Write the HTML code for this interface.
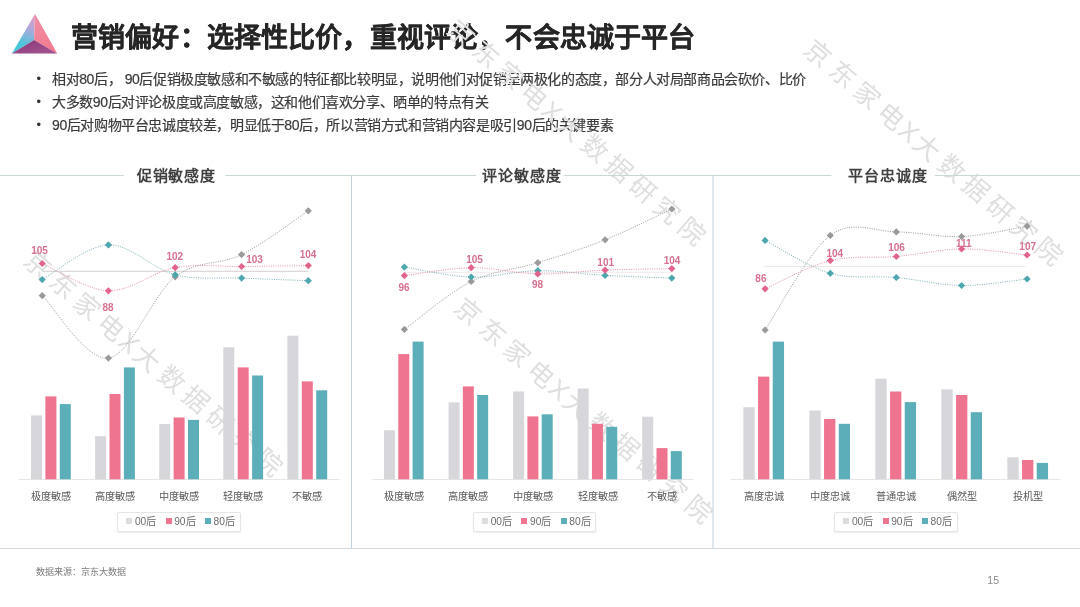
<!DOCTYPE html>
<html lang="zh-CN"><head><meta charset="utf-8">
<style>
*{margin:0;padding:0;box-sizing:border-box}
html,body{width:1080px;height:607px;overflow:hidden;background:#fff}
body{filter:blur(0.3px)}
body{position:relative;font-family:"Liberation Sans", sans-serif;color:#333}
.title{position:absolute;left:71px;top:19.5px;font-size:27px;font-weight:bold;color:#262626;-webkit-text-stroke:0.3px #262626;white-space:nowrap;line-height:36px;letter-spacing:0.15px}
.bul{position:absolute;left:52px;font-size:14px;letter-spacing:-0.4px;color:#3a3a3a;-webkit-text-stroke:0.2px #3a3a3a;white-space:nowrap;line-height:18px}
.dot{position:absolute;left:36.6px;font-size:13px;color:#333;line-height:18px}
.ctitle{position:absolute;width:120px;text-align:center;font-size:15px;letter-spacing:0.85px;text-indent:0.85px;font-weight:bold;color:#404040;line-height:22px;white-space:nowrap}
.cat{position:absolute;width:80px;text-align:center;font-size:10.2px;color:#595959;line-height:14px;white-space:nowrap}
.legend{position:absolute;width:123.5px;height:20px;border:1px solid #e6e6e6;border-radius:2px;box-shadow:0 1px 1.5px rgba(0,0,0,0.08);background:#fff}
.lsq{position:absolute;width:6px;height:6px}
.ltx{position:absolute;font-size:10.2px;color:#6b6b6b;line-height:13px;white-space:nowrap}
.lbl{font-family:"Liberation Sans", sans-serif;font-size:10px;font-weight:bold;fill:#d6708e;text-anchor:middle}
.src{position:absolute;left:36px;top:565.6px;font-size:9px;color:#7a7a7a;line-height:12px;white-space:nowrap}
.pg{position:absolute;left:987.3px;top:573px;font-size:10.5px;color:#8a8a8a;line-height:14px}
.wm{position:absolute;font-size:26px;color:#dfdfdf;white-space:nowrap;transform-origin:13px 15px;transform:rotate(40.6deg);letter-spacing:6px;line-height:30px}
.wx{margin-left:-4px;letter-spacing:2.2px}
svg.main{position:absolute;left:0;top:0}
</style></head><body>
<svg class="logo" width="70" height="70" viewBox="0 0 70 70" style="position:absolute;left:0;top:0">
<defs>
<linearGradient id="gl" x1="34" y1="16" x2="24" y2="46" gradientUnits="userSpaceOnUse">
<stop offset="0" stop-color="#e69ac2"/><stop offset="0.45" stop-color="#aaaadc"/><stop offset="1" stop-color="#46c6da"/></linearGradient>
<linearGradient id="gr" x1="35" y1="14" x2="50" y2="50" gradientUnits="userSpaceOnUse">
<stop offset="0" stop-color="#f090a6"/><stop offset="1" stop-color="#f27a90"/></linearGradient>
<linearGradient id="gb" x1="30" y1="40" x2="34" y2="54" gradientUnits="userSpaceOnUse">
<stop offset="0" stop-color="#8c3c7c"/><stop offset="1" stop-color="#a0508c"/></linearGradient>
</defs>
<path d="M35,14 L34.1,40.1 L11.9,53.4 Z" fill="url(#gl)"/>
<path d="M35,14 L57.2,53.4 L34.1,40.1 Z" fill="url(#gr)"/>
<path d="M34.1,40.1 L57.2,53.4 L11.9,53.4 Z" fill="url(#gb)"/>
</svg>
<div class="title">营销偏好：选择性比价，重视评论，不会忠诚于平台</div>
<div class="dot" style="top:69.8px">•</div>
<div class="dot" style="top:92.5px">•</div>
<div class="dot" style="top:115.6px">•</div>
<div class="bul" style="top:70px">相对80后， 90后促销极度敏感和不敏感的特征都比较明显，说明他们对促销呈两极化的态度，部分人对局部商品会砍价、比价</div>
<div class="bul" style="top:92.5px">大多数90后对评论极度或高度敏感，这和他们喜欢分享、晒单的特点有关</div>
<div class="bul" style="top:115.5px">90后对购物平台忠诚度较差，明显低于80后，所以营销方式和营销内容是吸引90后的关键要素</div>
<div class="wm" style="left:25.0px;top:249.5px">京东家电<span class="wx">X</span>大数据研究院</div>
<div class="wm" style="left:455.0px;top:296.5px">京东家电<span class="wx">X</span>大数据研究院</div>
<div class="wm" style="left:805.0px;top:38.7px">京东家电<span class="wx">X</span>大数据研究院</div>
<div class="wm" style="left:448.0px;top:19.0px">京东家电<span class="wx">X</span>大数据研究院</div>
<svg class="main" width="1080" height="607" viewBox="0 0 1080 607">
<line x1="0" y1="175.5" x2="123.7" y2="175.5" stroke="#c6d9d8" stroke-width="1"/>
<line x1="225.5" y1="175.5" x2="476.3" y2="175.5" stroke="#c6d9d8" stroke-width="1"/>
<line x1="563.7" y1="175.5" x2="831.4" y2="175.5" stroke="#c6d9d8" stroke-width="1"/>
<line x1="934.8" y1="175.5" x2="1080" y2="175.5" stroke="#c6d9d8" stroke-width="1"/>
<line x1="351.5" y1="175.5" x2="351.5" y2="548.5" stroke="#c0d2e0" stroke-width="1"/>
<line x1="713" y1="175.5" x2="713" y2="548.5" stroke="#c0d2e0" stroke-width="1"/>
<line x1="0" y1="548.5" x2="1080" y2="548.5" stroke="#d3dadc" stroke-width="1"/>
<line x1="18.8" y1="479.5" x2="339.3" y2="479.5" stroke="#e6e6e6" stroke-width="1"/>
<rect x="31.00" y="415.40" width="11.00" height="63.90" fill="#d7d7db"/>
<rect x="45.40" y="396.40" width="11.00" height="82.90" fill="#ee7490"/>
<rect x="59.80" y="404.10" width="11.00" height="75.20" fill="#5cafb9"/>
<rect x="95.10" y="436.20" width="11.00" height="43.10" fill="#d7d7db"/>
<rect x="109.50" y="394.00" width="11.00" height="85.30" fill="#ee7490"/>
<rect x="123.90" y="367.40" width="11.00" height="111.90" fill="#5cafb9"/>
<rect x="159.20" y="424.00" width="11.00" height="55.30" fill="#d7d7db"/>
<rect x="173.60" y="417.50" width="11.00" height="61.80" fill="#ee7490"/>
<rect x="188.00" y="419.90" width="11.00" height="59.40" fill="#5cafb9"/>
<rect x="223.30" y="347.30" width="11.00" height="132.00" fill="#d7d7db"/>
<rect x="237.70" y="367.40" width="11.00" height="111.90" fill="#ee7490"/>
<rect x="252.10" y="375.50" width="11.00" height="103.80" fill="#5cafb9"/>
<rect x="287.40" y="335.70" width="11.00" height="143.60" fill="#d7d7db"/>
<rect x="301.80" y="381.40" width="11.00" height="97.90" fill="#ee7490"/>
<rect x="316.20" y="390.30" width="11.00" height="89.00" fill="#5cafb9"/>
<line x1="42.0" y1="271.3" x2="308.3" y2="271.3" stroke="#c9c2c6" stroke-width="0.8"/>
<path d="M42.20,295.60 C53.23,306.02 86.23,361.23 108.40,358.10 C130.57,354.97 153.00,294.05 175.20,276.80 C197.40,259.55 219.42,265.60 241.60,254.60 C263.78,243.60 297.18,218.10 308.30,210.80" fill="none" stroke="#9c9c9c" stroke-width="1" stroke-dasharray="1 1.3" />
<path d="M42.20,279.60 C53.23,273.82 86.23,245.70 108.40,244.90 C130.57,244.10 153.00,269.27 175.20,274.80 C197.40,280.33 219.42,277.12 241.60,278.10 C263.78,279.08 297.18,280.27 308.30,280.70" fill="none" stroke="#7db4b9" stroke-width="1" stroke-dasharray="1 1.3" />
<path d="M42.20,263.50 C53.23,268.05 86.23,290.12 108.40,290.80 C130.57,291.48 153.00,271.65 175.20,267.60 C197.40,263.55 219.42,266.83 241.60,266.50 C263.78,266.17 297.18,265.75 308.30,265.60" fill="none" stroke="#e592aa" stroke-width="1" stroke-dasharray="1 1.3" />
<path d="M42.20,292.00 L45.80,295.60 L42.20,299.20 L38.60,295.60 Z" fill="#9a9a9a"/>
<path d="M108.40,354.50 L112.00,358.10 L108.40,361.70 L104.80,358.10 Z" fill="#9a9a9a"/>
<path d="M175.20,273.20 L178.80,276.80 L175.20,280.40 L171.60,276.80 Z" fill="#9a9a9a"/>
<path d="M241.60,251.00 L245.20,254.60 L241.60,258.20 L238.00,254.60 Z" fill="#9a9a9a"/>
<path d="M308.30,207.20 L311.90,210.80 L308.30,214.40 L304.70,210.80 Z" fill="#9a9a9a"/>
<path d="M42.20,276.00 L45.80,279.60 L42.20,283.20 L38.60,279.60 Z" fill="#4ea6ae"/>
<path d="M108.40,241.30 L112.00,244.90 L108.40,248.50 L104.80,244.90 Z" fill="#4ea6ae"/>
<path d="M175.20,271.20 L178.80,274.80 L175.20,278.40 L171.60,274.80 Z" fill="#4ea6ae"/>
<path d="M241.60,274.50 L245.20,278.10 L241.60,281.70 L238.00,278.10 Z" fill="#4ea6ae"/>
<path d="M308.30,277.10 L311.90,280.70 L308.30,284.30 L304.70,280.70 Z" fill="#4ea6ae"/>
<path d="M42.20,259.90 L45.80,263.50 L42.20,267.10 L38.60,263.50 Z" fill="#e3648a"/>
<path d="M108.40,287.20 L112.00,290.80 L108.40,294.40 L104.80,290.80 Z" fill="#e3648a"/>
<path d="M175.20,264.00 L178.80,267.60 L175.20,271.20 L171.60,267.60 Z" fill="#e3648a"/>
<path d="M241.60,262.90 L245.20,266.50 L241.60,270.10 L238.00,266.50 Z" fill="#e3648a"/>
<path d="M308.30,262.00 L311.90,265.60 L308.30,269.20 L304.70,265.60 Z" fill="#e3648a"/>
<text x="39.6" y="254.2" class="lbl">105</text>
<text x="108.1" y="310.5" class="lbl">88</text>
<text x="174.8" y="260.4" class="lbl">102</text>
<text x="254.6" y="262.8" class="lbl">103</text>
<text x="308.0" y="258.0" class="lbl">104</text>
<line x1="372.6" y1="479.5" x2="693.4" y2="479.5" stroke="#e6e6e6" stroke-width="1"/>
<rect x="384.00" y="430.30" width="11.00" height="49.00" fill="#d7d7db"/>
<rect x="398.30" y="354.10" width="11.00" height="125.20" fill="#ee7490"/>
<rect x="412.60" y="341.60" width="11.00" height="137.70" fill="#5cafb9"/>
<rect x="448.55" y="402.40" width="11.00" height="76.90" fill="#d7d7db"/>
<rect x="462.85" y="386.40" width="11.00" height="92.90" fill="#ee7490"/>
<rect x="477.15" y="395.00" width="11.00" height="84.30" fill="#5cafb9"/>
<rect x="513.10" y="391.50" width="11.00" height="87.80" fill="#d7d7db"/>
<rect x="527.40" y="416.40" width="11.00" height="62.90" fill="#ee7490"/>
<rect x="541.70" y="414.30" width="11.00" height="65.00" fill="#5cafb9"/>
<rect x="577.65" y="388.50" width="11.00" height="90.80" fill="#d7d7db"/>
<rect x="591.95" y="423.80" width="11.00" height="55.50" fill="#ee7490"/>
<rect x="606.25" y="426.80" width="11.00" height="52.50" fill="#5cafb9"/>
<rect x="642.20" y="416.70" width="11.00" height="62.60" fill="#d7d7db"/>
<rect x="656.50" y="448.10" width="11.00" height="31.20" fill="#ee7490"/>
<rect x="670.80" y="451.10" width="11.00" height="28.20" fill="#5cafb9"/>
<line x1="404.0" y1="272.3" x2="672.0" y2="272.3" stroke="#ebe5e7" stroke-width="0.8"/>
<path d="M404.40,329.40 C415.53,321.42 448.97,292.62 471.20,281.50 C493.43,270.38 515.48,269.65 537.80,262.70 C560.12,255.75 582.77,248.75 605.10,239.80 C627.43,230.85 660.68,214.13 671.80,209.00" fill="none" stroke="#9c9c9c" stroke-width="1" stroke-dasharray="1 1.3" />
<path d="M404.40,267.10 C415.53,268.75 448.97,276.40 471.20,277.00 C493.43,277.60 515.48,270.97 537.80,270.70 C560.12,270.43 582.77,274.17 605.10,275.40 C627.43,276.63 660.68,277.65 671.80,278.10" fill="none" stroke="#7db4b9" stroke-width="1" stroke-dasharray="1 1.3" />
<path d="M404.40,275.60 C415.53,274.28 448.97,267.98 471.20,267.70 C493.43,267.42 515.48,273.50 537.80,273.90 C560.12,274.30 582.77,270.98 605.10,270.10 C627.43,269.22 660.68,268.85 671.80,268.60" fill="none" stroke="#e592aa" stroke-width="1" stroke-dasharray="1 1.3" />
<path d="M404.40,325.80 L408.00,329.40 L404.40,333.00 L400.80,329.40 Z" fill="#9a9a9a"/>
<path d="M471.20,277.90 L474.80,281.50 L471.20,285.10 L467.60,281.50 Z" fill="#9a9a9a"/>
<path d="M537.80,259.10 L541.40,262.70 L537.80,266.30 L534.20,262.70 Z" fill="#9a9a9a"/>
<path d="M605.10,236.20 L608.70,239.80 L605.10,243.40 L601.50,239.80 Z" fill="#9a9a9a"/>
<path d="M671.80,205.40 L675.40,209.00 L671.80,212.60 L668.20,209.00 Z" fill="#9a9a9a"/>
<path d="M404.40,263.50 L408.00,267.10 L404.40,270.70 L400.80,267.10 Z" fill="#4ea6ae"/>
<path d="M471.20,273.40 L474.80,277.00 L471.20,280.60 L467.60,277.00 Z" fill="#4ea6ae"/>
<path d="M537.80,267.10 L541.40,270.70 L537.80,274.30 L534.20,270.70 Z" fill="#4ea6ae"/>
<path d="M605.10,271.80 L608.70,275.40 L605.10,279.00 L601.50,275.40 Z" fill="#4ea6ae"/>
<path d="M671.80,274.50 L675.40,278.10 L671.80,281.70 L668.20,278.10 Z" fill="#4ea6ae"/>
<path d="M404.40,272.00 L408.00,275.60 L404.40,279.20 L400.80,275.60 Z" fill="#e3648a"/>
<path d="M471.20,264.10 L474.80,267.70 L471.20,271.30 L467.60,267.70 Z" fill="#e3648a"/>
<path d="M537.80,270.30 L541.40,273.90 L537.80,277.50 L534.20,273.90 Z" fill="#e3648a"/>
<path d="M605.10,266.50 L608.70,270.10 L605.10,273.70 L601.50,270.10 Z" fill="#e3648a"/>
<path d="M671.80,265.00 L675.40,268.60 L671.80,272.20 L668.20,268.60 Z" fill="#e3648a"/>
<text x="404.1" y="291.4" class="lbl">96</text>
<text x="474.5" y="262.8" class="lbl">105</text>
<text x="537.5" y="288.3" class="lbl">98</text>
<text x="605.7" y="266.4" class="lbl">101</text>
<text x="672.1" y="264.0" class="lbl">104</text>
<line x1="730.7" y1="479.5" x2="1060.7" y2="479.5" stroke="#e6e6e6" stroke-width="1"/>
<rect x="743.35" y="407.20" width="11.30" height="72.10" fill="#d7d7db"/>
<rect x="758.05" y="376.60" width="11.30" height="102.70" fill="#ee7490"/>
<rect x="772.75" y="341.60" width="11.30" height="137.70" fill="#5cafb9"/>
<rect x="809.35" y="410.50" width="11.30" height="68.80" fill="#d7d7db"/>
<rect x="824.05" y="419.00" width="11.30" height="60.30" fill="#ee7490"/>
<rect x="838.75" y="423.80" width="11.30" height="55.50" fill="#5cafb9"/>
<rect x="875.35" y="378.70" width="11.30" height="100.60" fill="#d7d7db"/>
<rect x="890.05" y="391.50" width="11.30" height="87.80" fill="#ee7490"/>
<rect x="904.75" y="402.10" width="11.30" height="77.20" fill="#5cafb9"/>
<rect x="941.35" y="389.40" width="11.30" height="89.90" fill="#d7d7db"/>
<rect x="956.05" y="395.00" width="11.30" height="84.30" fill="#ee7490"/>
<rect x="970.75" y="412.20" width="11.30" height="67.10" fill="#5cafb9"/>
<rect x="1007.35" y="457.30" width="11.30" height="22.00" fill="#d7d7db"/>
<rect x="1022.05" y="460.00" width="11.30" height="19.30" fill="#ee7490"/>
<rect x="1036.75" y="462.90" width="11.30" height="16.40" fill="#5cafb9"/>
<line x1="764.0" y1="266.4" x2="1025.3" y2="266.4" stroke="#e9e1e0" stroke-width="0.8"/>
<path d="M765.10,330.00 C775.97,314.23 808.43,251.75 830.30,235.40 C852.17,219.05 874.42,231.70 896.30,231.90 C918.18,232.10 939.80,237.55 961.60,236.60 C983.40,235.65 1016.18,227.93 1027.10,226.20" fill="none" stroke="#9c9c9c" stroke-width="1" stroke-dasharray="1 1.3" />
<path d="M765.10,240.40 C775.97,245.88 808.43,267.12 830.30,273.30 C852.17,279.48 874.42,275.47 896.30,277.50 C918.18,279.53 939.80,285.25 961.60,285.50 C983.40,285.75 1016.18,280.08 1027.10,279.00" fill="none" stroke="#7db4b9" stroke-width="1" stroke-dasharray="1 1.3" />
<path d="M765.10,288.80 C775.97,284.10 808.43,265.98 830.30,260.60 C852.17,255.22 874.42,258.43 896.30,256.50 C918.18,254.57 939.80,249.25 961.60,249.00 C983.40,248.75 1016.18,254.00 1027.10,255.00" fill="none" stroke="#e592aa" stroke-width="1" stroke-dasharray="1 1.3" />
<path d="M765.10,326.40 L768.70,330.00 L765.10,333.60 L761.50,330.00 Z" fill="#9a9a9a"/>
<path d="M830.30,231.80 L833.90,235.40 L830.30,239.00 L826.70,235.40 Z" fill="#9a9a9a"/>
<path d="M896.30,228.30 L899.90,231.90 L896.30,235.50 L892.70,231.90 Z" fill="#9a9a9a"/>
<path d="M961.60,233.00 L965.20,236.60 L961.60,240.20 L958.00,236.60 Z" fill="#9a9a9a"/>
<path d="M1027.10,222.60 L1030.70,226.20 L1027.10,229.80 L1023.50,226.20 Z" fill="#9a9a9a"/>
<path d="M765.10,236.80 L768.70,240.40 L765.10,244.00 L761.50,240.40 Z" fill="#4ea6ae"/>
<path d="M830.30,269.70 L833.90,273.30 L830.30,276.90 L826.70,273.30 Z" fill="#4ea6ae"/>
<path d="M896.30,273.90 L899.90,277.50 L896.30,281.10 L892.70,277.50 Z" fill="#4ea6ae"/>
<path d="M961.60,281.90 L965.20,285.50 L961.60,289.10 L958.00,285.50 Z" fill="#4ea6ae"/>
<path d="M1027.10,275.40 L1030.70,279.00 L1027.10,282.60 L1023.50,279.00 Z" fill="#4ea6ae"/>
<path d="M765.10,285.20 L768.70,288.80 L765.10,292.40 L761.50,288.80 Z" fill="#e3648a"/>
<path d="M830.30,257.00 L833.90,260.60 L830.30,264.20 L826.70,260.60 Z" fill="#e3648a"/>
<path d="M896.30,252.90 L899.90,256.50 L896.30,260.10 L892.70,256.50 Z" fill="#e3648a"/>
<path d="M961.60,245.40 L965.20,249.00 L961.60,252.60 L958.00,249.00 Z" fill="#e3648a"/>
<path d="M1027.10,251.40 L1030.70,255.00 L1027.10,258.60 L1023.50,255.00 Z" fill="#e3648a"/>
<text x="760.9" y="282.4" class="lbl">86</text>
<text x="834.8" y="257.2" class="lbl">104</text>
<text x="896.6" y="251.0" class="lbl">106</text>
<text x="963.9" y="247.4" class="lbl">111</text>
<text x="1027.7" y="249.8" class="lbl">107</text>
</svg>
<div class="cat" style="left:10.9px;top:489.9px">极度敏感</div>
<div class="cat" style="left:75.0px;top:489.9px">高度敏感</div>
<div class="cat" style="left:139.1px;top:489.9px">中度敏感</div>
<div class="cat" style="left:203.2px;top:489.9px">轻度敏感</div>
<div class="cat" style="left:267.3px;top:489.9px">不敏感</div>
<div class="ctitle" style="left:116.0px;top:165px">促销敏感度</div>
<div class="legend" style="left:117.0px;top:511.6px"></div>
<div class="lsq" style="left:126.3px;top:518px;background:#dddde0"></div>
<div class="ltx" style="left:134.9px;top:514.8px">00后</div>
<div class="lsq" style="left:165.6px;top:518px;background:#ee7490"></div>
<div class="ltx" style="left:174.2px;top:514.8px">90后</div>
<div class="lsq" style="left:204.9px;top:518px;background:#5cafb9"></div>
<div class="ltx" style="left:213.5px;top:514.8px">80后</div>
<div class="cat" style="left:363.8px;top:489.9px">极度敏感</div>
<div class="cat" style="left:428.4px;top:489.9px">高度敏感</div>
<div class="cat" style="left:492.9px;top:489.9px">中度敏感</div>
<div class="cat" style="left:557.5px;top:489.9px">轻度敏感</div>
<div class="cat" style="left:622.0px;top:489.9px">不敏感</div>
<div class="ctitle" style="left:461.5px;top:165px">评论敏感度</div>
<div class="legend" style="left:472.8px;top:511.6px"></div>
<div class="lsq" style="left:482.1px;top:518px;background:#dddde0"></div>
<div class="ltx" style="left:490.7px;top:514.8px">00后</div>
<div class="lsq" style="left:521.4px;top:518px;background:#ee7490"></div>
<div class="ltx" style="left:530.0px;top:514.8px">90后</div>
<div class="lsq" style="left:560.7px;top:518px;background:#5cafb9"></div>
<div class="ltx" style="left:569.3px;top:514.8px">80后</div>
<div class="cat" style="left:723.7px;top:489.9px">高度忠诚</div>
<div class="cat" style="left:789.7px;top:489.9px">中度忠诚</div>
<div class="cat" style="left:855.7px;top:489.9px">普通忠诚</div>
<div class="cat" style="left:921.7px;top:489.9px">偶然型</div>
<div class="cat" style="left:987.7px;top:489.9px">投机型</div>
<div class="ctitle" style="left:827.4px;top:165px">平台忠诚度</div>
<div class="legend" style="left:834.0px;top:511.6px"></div>
<div class="lsq" style="left:843.3px;top:518px;background:#dddde0"></div>
<div class="ltx" style="left:851.9px;top:514.8px">00后</div>
<div class="lsq" style="left:882.6px;top:518px;background:#ee7490"></div>
<div class="ltx" style="left:891.2px;top:514.8px">90后</div>
<div class="lsq" style="left:921.9px;top:518px;background:#5cafb9"></div>
<div class="ltx" style="left:930.5px;top:514.8px">80后</div>
<div class="src">数据来源：京东大数据</div>
<div class="pg">15</div>
</body></html>
